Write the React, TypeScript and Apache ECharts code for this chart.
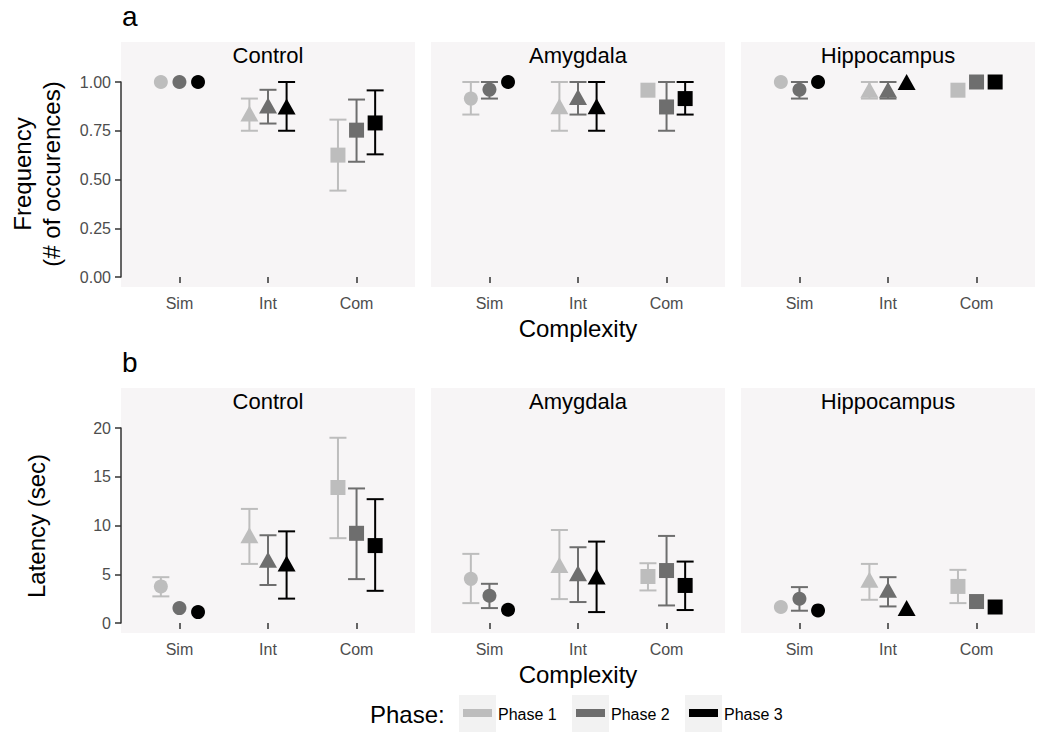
import React, { useEffect, useRef } from "react";
import * as echarts from "echarts";

// ---------- data ----------
const complexities = ["Sim", "Int", "Com"];
const regions = ["Control", "Amygdala", "Hippocampus"];
const phases = ["Phase 1", "Phase 2", "Phase 3"];
const freqTickValues = [0, 0.25, 0.5, 0.75, 1];
const latencyTickValues = [0, 5, 10, 15, 20];

// Frequency: rows = phases, cols = complexities
const freqControlMean = [[1.0, 0.838, 0.625], [1.0, 0.88, 0.753], [1.0, 0.875, 0.79]];
const freqControlLow = [[1.0, 0.75, 0.443], [1.0, 0.787, 0.591], [1.0, 0.75, 0.629]];
const freqControlHigh = [[1.0, 0.915, 0.807], [1.0, 0.96, 0.91], [1.0, 1.0, 0.957]];

const freqAmygdalaMean = [[0.915, 0.876, 0.958], [0.961, 0.923, 0.872], [1.0, 0.876, 0.915]];
const freqAmygdalaLow = [[0.833, 0.75, 0.958], [0.915, 0.833, 0.75], [1.0, 0.75, 0.833]];
const freqAmygdalaHigh = [[1.0, 1.0, 0.958], [1.0, 1.0, 1.0], [1.0, 1.0, 1.0]];

const freqHippocampusMean = [[1.0, 0.96, 0.958], [0.96, 0.96, 1.0], [1.0, 1.0, 1.0]];
const freqHippocampusLow = [[1.0, 0.915, 0.958], [0.915, 0.915, 1.0], [1.0, 1.0, 1.0]];
const freqHippocampusHigh = [[1.0, 1.0, 0.958], [1.0, 1.0, 1.0], [1.0, 1.0, 1.0]];

// Latency (sec)
const latControlMean = [[3.75, 9.0, 13.9], [1.53, 6.5, 9.2], [1.12, 6.1, 7.94]];
const latControlLow = [[2.73, 6.06, 8.7], [1.53, 3.9, 4.5], [1.12, 2.5, 3.3]];
const latControlHigh = [[4.7, 11.7, 19.0], [1.53, 9.0, 13.8], [1.12, 9.4, 12.7]];

const latAmygdalaMean = [[4.53, 5.96, 4.77], [2.79, 5.1, 5.38], [1.36, 4.77, 3.85]];
const latAmygdalaLow = [[2.04, 2.45, 3.34], [1.53, 2.15, 1.8], [1.36, 1.12, 1.33]];
const latAmygdalaHigh = [[7.09, 9.54, 6.13], [4.02, 7.77, 8.93], [1.36, 8.35, 6.3]];

const latHippocampusMean = [[1.64, 4.43, 3.75], [2.49, 3.4, 2.2], [1.29, 1.53, 1.64]];
const latHippocampusLow = [[1.64, 2.38, 2.04], [1.26, 1.7, 2.2], [1.29, 1.53, 1.64]];
const latHippocampusHigh = [[1.64, 6.06, 5.45], [3.68, 4.7, 2.2], [1.29, 1.53, 1.64]];

// ---------- styles / layout ----------
const FONT = "'Liberation Sans', Arial, Helvetica, sans-serif";
const phaseColors = ["#bdbdbd", "#6e6e6e", "#000000"];
const shapes = ["circle", "triangle", "rect"];
const symbolSizes: any[] = [14, [18, 16], 15];
const dodge = [-0.21, 0, 0.21];
const panelLefts = [121, 431, 741];
const panelW = 294;
const panelTops = [42, 388];
const panelH = 245;
const gridTops = [82, 428];
const gridH = 195;
const panelBg = "#f7f5f6";

export default function App() {
  const ref = useRef<HTMLDivElement>(null);

  useEffect(() => {
    if (!ref.current) return;
    const chart = echarts.init(ref.current, null, { renderer: "svg" });

    const rowsData = [
      [
        [freqControlMean, freqControlLow, freqControlHigh],
        [freqAmygdalaMean, freqAmygdalaLow, freqAmygdalaHigh],
        [freqHippocampusMean, freqHippocampusLow, freqHippocampusHigh],
      ],
      [
        [latControlMean, latControlLow, latControlHigh],
        [latAmygdalaMean, latAmygdalaLow, latAmygdalaHigh],
        [latHippocampusMean, latHippocampusLow, latHippocampusHigh],
      ],
    ];
    const rowTicks = [freqTickValues, latencyTickValues];

    const grids: any[] = [];
    const xAxes: any[] = [];
    const yAxes: any[] = [];
    const series: any[] = [];
    const graphics: any[] = [];

    for (let r = 0; r < 2; r++) {
      for (let c = 0; c < 3; c++) {
        const g = r * 3 + c;
        grids.push({ left: panelLefts[c], top: gridTops[r], width: panelW, height: gridH });
        xAxes.push({
          gridIndex: g,
          type: "value",
          min: 0.34,
          max: 3.66,
          offset: 10,
          axisLine: { show: false },
          axisTick: { show: true, customValues: [1, 2, 3], length: 6, lineStyle: { color: "#333", width: 1.5 } },
          axisLabel: {
            customValues: [1, 2, 3],
            formatter: (v: number) => complexities[Math.round(v) - 1] ?? "",
            color: "#4d4d4d",
            fontSize: 16,
            fontFamily: FONT,
            margin: 8,
          },
          splitLine: { show: false },
        });
        const ticks = rowTicks[r];
        yAxes.push({
          gridIndex: g,
          type: "value",
          min: ticks[0],
          max: ticks[ticks.length - 1],
          interval: ticks[1] - ticks[0],
          show: c === 0,
          axisLine: { show: true, lineStyle: { color: "#333", width: 1.5 } },
          axisTick: { show: true, length: 6, lineStyle: { color: "#333", width: 1.5 } },
          axisLabel: {
            color: "#4d4d4d",
            fontSize: 16,
            fontFamily: FONT,
            margin: 10,
            formatter: (v: number) => (r === 0 ? v.toFixed(2) : String(v)),
          },
          splitLine: { show: false },
        });

        graphics.push({
          type: "rect",
          z: -1,
          silent: true,
          shape: { x: panelLefts[c], y: panelTops[r], width: panelW, height: panelH },
          style: { fill: panelBg },
        });
        graphics.push({
          type: "text",
          x: panelLefts[c] + panelW / 2,
          y: panelTops[r] + 13,
          silent: true,
          style: { text: regions[c], fill: "#000", fontSize: 22, fontFamily: FONT, align: "center", verticalAlign: "middle" },
        });

        const [means, lows, highs] = rowsData[r][c];
        for (let p = 0; p < 3; p++) {
          const color = phaseColors[p];
          series.push({
            type: "custom",
            name: phases[p],
            xAxisIndex: g,
            yAxisIndex: g,
            silent: true,
            z: 3,
            encode: { x: 0, y: [1, 2] },
            data: complexities.map((_, k) => [k + 1 + dodge[p], lows[p][k], highs[p][k]]),
            renderItem: (params: any, api: any) => {
              const x = api.value(0);
              const lo = api.value(1);
              const hi = api.value(2);
              if (lo === hi) return null;
              const a = api.coord([x, lo]);
              const b = api.coord([x, hi]);
              const hw = 8.5;
              const st = { stroke: color, lineWidth: 2 };
              return {
                type: "group",
                children: [
                  { type: "line", shape: { x1: a[0], y1: a[1], x2: b[0], y2: b[1] }, style: st },
                  { type: "line", shape: { x1: a[0] - hw, y1: a[1], x2: a[0] + hw, y2: a[1] }, style: st },
                  { type: "line", shape: { x1: b[0] - hw, y1: b[1], x2: b[0] + hw, y2: b[1] }, style: st },
                ],
              };
            },
          });
          series.push({
            type: "scatter",
            name: phases[p],
            xAxisIndex: g,
            yAxisIndex: g,
            silent: true,
            clip: false,
            z: 4,
            itemStyle: { color, opacity: 1 },
            data: complexities.map((_, k) => ({
              value: [k + 1 + dodge[p], means[p][k]],
              symbol: shapes[k],
              symbolSize: symbolSizes[k],
            })),
          });
        }
      }
    }

    // row letters
    graphics.push({ type: "text", x: 122, y: 16, silent: true, style: { text: "a", fill: "#000", fontSize: 28, fontFamily: FONT, align: "left", verticalAlign: "middle" } });
    graphics.push({ type: "text", x: 122, y: 362, silent: true, style: { text: "b", fill: "#000", fontSize: 28, fontFamily: FONT, align: "left", verticalAlign: "middle" } });

    // axis titles
    const plotCenterX = (panelLefts[0] + panelLefts[2] + panelW) / 2;
    graphics.push({ type: "text", x: plotCenterX, y: 328, silent: true, style: { text: "Complexity", fill: "#000", fontSize: 24, fontFamily: FONT, align: "center", verticalAlign: "middle" } });
    graphics.push({ type: "text", x: plotCenterX, y: 674, silent: true, style: { text: "Complexity", fill: "#000", fontSize: 24, fontFamily: FONT, align: "center", verticalAlign: "middle" } });
    graphics.push({ type: "text", x: 22, y: 174, rotation: Math.PI / 2, silent: true, style: { text: "Frequency", fill: "#000", fontSize: 24, fontFamily: FONT, align: "center", verticalAlign: "middle" } });
    graphics.push({ type: "text", x: 51, y: 174, rotation: Math.PI / 2, silent: true, style: { text: "(# of occurences)", fill: "#000", fontSize: 24, fontFamily: FONT, align: "center", verticalAlign: "middle" } });
    graphics.push({ type: "text", x: 36, y: 526, rotation: Math.PI / 2, silent: true, style: { text: "Latency (sec)", fill: "#000", fontSize: 24, fontFamily: FONT, align: "center", verticalAlign: "middle" } });

    // legend
    graphics.push({ type: "text", x: 370, y: 714, silent: true, style: { text: "Phase:", fill: "#000", fontSize: 24, fontFamily: FONT, align: "left", verticalAlign: "middle" } });
    const keyLefts = [459, 572, 685];
    for (let p = 0; p < 3; p++) {
      graphics.push({ type: "rect", silent: true, shape: { x: keyLefts[p], y: 695, width: 37, height: 37 }, style: { fill: "#f2f2f2" } });
      graphics.push({ type: "rect", silent: true, shape: { x: keyLefts[p] + 4, y: 709, width: 29, height: 8 }, style: { fill: phaseColors[p] } });
      graphics.push({ type: "text", x: keyLefts[p] + 39, y: 714, silent: true, style: { text: phases[p], fill: "#000", fontSize: 16, fontFamily: FONT, align: "left", verticalAlign: "middle" } });
    }

    chart.setOption({
      animation: false,
      backgroundColor: "#ffffff",
      grid: grids,
      xAxis: xAxes,
      yAxis: yAxes,
      series,
      graphic: graphics,
    });

    return () => chart.dispose();
  }, []);

  return (
    <div
      ref={ref}
      style={{ position: "absolute", left: 0, top: 0, width: 1050, height: 743 }}
    />
  );
}
